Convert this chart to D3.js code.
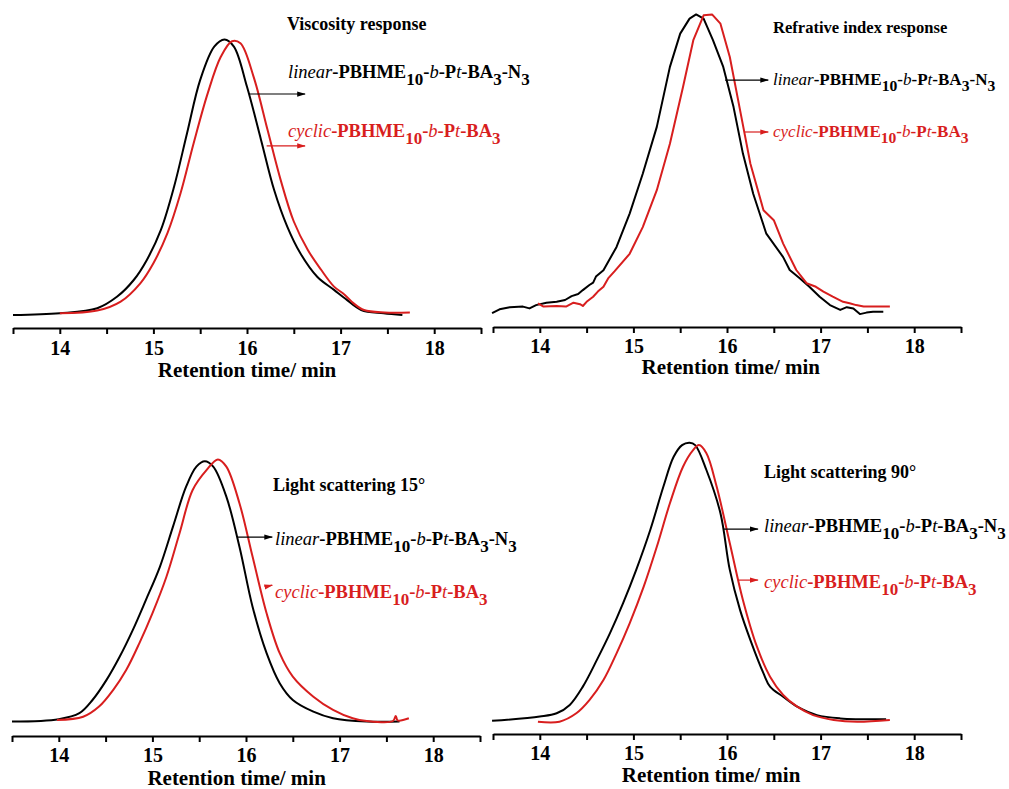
<!DOCTYPE html>
<html>
<head>
<meta charset="utf-8">
<script src="https://cdn.jsdelivr.net/npm/d3@7"></script>
<style>
body { margin: 0; background: #fff; }
text { font-family: "Liberation Serif", "Times New Roman", serif; }
</style>
</head>
<body>
<div id="chart"></div>
<script>
// retention time axis
const majorTicks = [14, 15, 16, 17, 18];
const minorTicks = [13.5, 14.5, 15.5, 16.5, 17.5, 18.5];
const axisTitle = "Retention time/ min";
const panelTitles = ["Viscosity response", "Refrative index response", "Light scattering 15°", "Light scattering 90°"];

// [retention time (min), detector signal]
const viscLinear = [[13.5,4.3],[14.0,4.9],[14.4,6.6],[14.61,10.4],[14.79,16],[14.93,22.7],[15.08,32.7],[15.22,47],[15.36,65],[15.5,82.7],[15.65,93.8],[15.76,96.2],[15.86,93.8],[16.0,80.4],[16.15,62.7],[16.29,46],[16.43,33.8],[16.57,24.9],[16.75,17.1],[16.93,12.7],[17.07,9.3],[17.22,6],[17.46,4.9],[17.66,4.3]];
const viscCyclic = [[14.0,4.9],[14.4,5.8],[14.65,8.8],[14.86,14.9],[15.0,21.6],[15.15,31.6],[15.29,44.9],[15.43,61.6],[15.58,78.2],[15.72,90.4],[15.84,95.6],[15.93,94.9],[16.07,83.8],[16.22,66],[16.36,49.3],[16.5,35.5],[16.65,26],[16.79,19.5],[16.93,13.8],[17.04,11.2],[17.14,8.2],[17.25,6],[17.47,5.2],[17.74,5.2]];

const riLinear = [[13.49,4.6],[13.57,5.9],[13.68,6.6],[13.82,6.8],[13.89,6.2],[13.96,7.3],[14.07,8.1],[14.18,8.4],[14.27,9],[14.34,10.3],[14.41,11],[14.46,12.3],[14.53,14],[14.57,14.8],[14.6,16.8],[14.68,18.9],[14.82,26.7],[14.96,37.8],[15.1,51.1],[15.25,66.7],[15.39,86.7],[15.5,97.8],[15.6,102.8],[15.67,104.2],[15.75,102.8],[15.85,95.6],[15.96,86.7],[16.07,73.3],[16.17,57.8],[16.28,44.4],[16.42,31.1],[16.6,23.3],[16.67,19],[16.78,16.2],[16.88,13.4],[16.99,10.1],[17.1,7.3],[17.21,5.7],[17.28,6.6],[17.35,6.2],[17.42,4.3],[17.49,4.8],[17.56,5.1],[17.67,5.1]];
const riCyclic = [[13.98,7.9],[14.04,6.8],[14.18,7.0],[14.28,6.8],[14.36,8.1],[14.43,7.6],[14.46,7],[14.5,8.4],[14.57,10.1],[14.62,11.8],[14.68,13.4],[14.73,16.2],[14.8,18.6],[14.96,24.4],[15.1,33.3],[15.25,45.6],[15.39,61.1],[15.53,80],[15.64,95.6],[15.75,103.9],[15.84,104.2],[15.93,101.1],[16.03,90],[16.14,72.2],[16.25,54.4],[16.39,38.9],[16.5,35.6],[16.6,27.8],[16.74,19],[16.85,14.6],[16.95,13.4],[17.03,11.8],[17.13,10.1],[17.24,8.4],[17.31,7.9],[17.38,7.3],[17.46,6.8],[17.74,6.8]];

const ls15Linear = [[13.5,4.8],[14.0,5.6],[14.22,7.6],[14.36,12],[14.51,18.7],[14.65,26.4],[14.79,35.3],[14.93,45.3],[15.08,56.4],[15.22,69.8],[15.36,83.1],[15.47,89.8],[15.56,91.6],[15.65,89.8],[15.79,79.8],[15.93,63.1],[16.07,43.1],[16.22,27.6],[16.36,17.6],[16.5,12],[16.72,8.1],[16.93,5.9],[17.29,4.8],[17.64,4.8]];
const ls15Cyclic = [[13.98,5.3],[14.26,6.4],[14.43,9.8],[14.58,15.3],[14.72,22],[14.86,30.9],[15.0,40.9],[15.15,53.1],[15.29,67.6],[15.43,82],[15.58,88.7],[15.7,92.2],[15.79,89.8],[15.93,77.6],[16.07,59.8],[16.22,40.9],[16.36,27.6],[16.5,19.8],[16.72,13.1],[16.93,8.7],[17.14,5.9],[17.29,5],[17.57,5],[17.6,6.7],[17.62,5.2],[17.74,5.9]];

const ls90Linear = [[13.49,4.4],[14.0,5.8],[14.18,6.9],[14.32,9.7],[14.46,15.8],[14.61,24.7],[14.75,33.6],[14.89,43.6],[15.03,54.7],[15.18,68],[15.32,82.4],[15.43,92.4],[15.52,96.3],[15.6,97.1],[15.66,96.3],[15.78,88],[15.93,73.6],[16.03,54.7],[16.14,41.3],[16.25,31.3],[16.39,20.2],[16.46,15.8],[16.6,12.4],[16.75,9.1],[16.96,6.3],[17.21,5.2],[17.7,4.9]];
const ls90Cyclic = [[13.98,4.1],[14.21,4.1],[14.39,6.9],[14.53,11.3],[14.68,18],[14.82,26.9],[14.96,36.9],[15.11,49.1],[15.25,62.4],[15.39,76.9],[15.53,89.1],[15.64,94.7],[15.7,96.3],[15.78,93.6],[15.89,82.4],[16.03,63.6],[16.17,44.7],[16.32,29.1],[16.46,19.1],[16.6,13],[16.75,9.1],[16.92,6.3],[17.14,4.7],[17.39,4.1],[17.74,4.7]];

const red = "#d81e1e";

const panels = [
  { title: panelTitles[0], linear: viscLinear, cyclic: viscCyclic, smooth: true,
    left: 13, axisY: 328, tickDy: 27, titleT: 16, titleDy: 49, fs: 1,
    head: [287, 30], linLab: [288, 78], cycLab: [288, 137],
    linArrow: [[16.02, 78], [16.62, 78]], cycArrow: [[16.21, 60.7], [16.62, 60.7]] },
  { title: panelTitles[1], linear: riLinear, cyclic: riCyclic, smooth: false,
    left: 493, axisY: 327, tickDy: 26, titleT: 16.04, titleDy: 47, fs: 0.92,
    head: [773, 33], linLab: [773, 85], cycLab: [773, 137],
    linArrow: [[15.98, 82.3], [16.44, 82.3]], cycArrow: [[16.19, 65], [16.44, 65]] },
  { title: panelTitles[2], linear: ls15Linear, cyclic: ls15Cyclic, smooth: true,
    left: 12, axisY: 736, tickDy: 26, titleT: 15.9, titleDy: 49, fs: 1,
    head: [273, 491], linLab: [275, 545], cycLab: [275, 598],
    linArrow: [[15.91, 66.3], [16.28, 66.3]], cycArrow: [[16.2, 49.7], [16.28, 50.3]] },
  { title: panelTitles[3], linear: ls90Linear, cyclic: ls90Cyclic, smooth: true,
    left: 493, axisY: 734, tickDy: 26, titleT: 15.83, titleDy: 48, fs: 1,
    head: [764, 478], linLab: [764, 532], cycLab: [764, 588],
    linArrow: [[15.96, 68.3], [16.33, 68.3]], cycArrow: [[16.12, 51.3], [16.33, 51.3]] }
];

const linearParts = [["linear","i"],["-","b"],["PBHME","b"],["10","bs"],["-","b"],["b","i"],["-","b"],["P","b"],["t","i"],["-","b"],["BA","b"],["3","bs"],["-","b"],["N","b"],["3","bs"]];
const cyclicParts = [["cyclic","i"],["-","b"],["PBHME","b"],["10","bs"],["-","b"],["b","i"],["-","b"],["P","b"],["t","i"],["-","b"],["BA","b"],["3","bs"]];

var svg = d3.select("#chart")
    .append("svg")
    .attr("width", 1009)
    .attr("height", 789);

var defs = svg.append("defs");
[["arrowBlack", "#000"], ["arrowRed", red]].forEach(function(m) {
  defs.append("marker")
      .attr("id", m[0])
      .attr("viewBox", "0 -4 10 8")
      .attr("refX", 9)
      .attr("refY", 0)
      .attr("markerUnits", "userSpaceOnUse")
      .attr("markerWidth", 9)
      .attr("markerHeight", 7)
      .attr("orient", "auto")
    .append("path")
      .attr("d", "M0,-3L10,0L0,3Z")
      .attr("fill", m[1]);
});

function addLabel(g, pos, parts, color, fs) {
  var t = g.append("text")
      .attr("x", pos[0])
      .attr("y", pos[1])
      .attr("fill", color)
      .style("font-size", (18.5 * fs) + "px");
  var low = false;
  parts.forEach(function(p) {
    var sub = p[1].indexOf("s") >= 0;
    var dy = 0;
    if (sub && !low) { dy = 7 * fs; low = true; }
    else if (!sub && low) { dy = -7 * fs; low = false; }
    t.append("tspan")
        .attr("dy", dy)
        .style("font-style", p[1].indexOf("i") >= 0 ? "italic" : "normal")
        .style("font-weight", p[1].indexOf("b") >= 0 ? "bold" : "normal")
        .style("font-size", sub ? (17 * fs) + "px" : null)
        .text(p[0]);
  });
}

panels.forEach(function(p) {
  var g = svg.append("g");

  var x = d3.scaleLinear()
      .domain([13.5, 18.5])
      .range([p.left, p.left + 468]);
  var y = d3.scaleLinear()
      .domain([0, 100])
      .range([p.axisY, p.axisY - 300]);

  var axis = g.append("g")
      .attr("transform", "translate(0," + p.axisY + ")")
      .call(d3.axisBottom(x)
          .tickValues(majorTicks.concat(minorTicks))
          .tickSize(6)
          .tickSizeOuter(0)
          .tickFormat(function(d) { return majorTicks.indexOf(d) >= 0 ? d : ""; }));
  axis.select(".domain").attr("stroke-width", 2.2);
  axis.selectAll(".tick line").attr("stroke-width", 2);
  axis.selectAll(".tick text")
      .attr("y", p.tickDy)
      .attr("dy", 0)
      .style("font-size", "20px")
      .style("font-weight", "bold")
      .style("font-family", '"Liberation Serif", "Times New Roman", serif')
      .attr("fill", "#000");

  g.append("text")
      .attr("x", x(p.titleT))
      .attr("y", p.axisY + p.titleDy)
      .attr("text-anchor", "middle")
      .style("font-size", "21px")
      .style("font-weight", "bold")
      .text(axisTitle);

  var line = d3.line()
      .x(function(d) { return x(d[0]); })
      .y(function(d) { return y(d[1]); })
      .curve(p.smooth ? d3.curveCatmullRom.alpha(0.5) : d3.curveLinear);

  g.append("path")
      .datum(p.linear)
      .attr("d", line)
      .attr("fill", "none")
      .attr("stroke", "#000")
      .attr("stroke-width", 2)
      .attr("stroke-linejoin", "round");

  g.append("path")
      .datum(p.cyclic)
      .attr("d", line)
      .attr("fill", "none")
      .attr("stroke", red)
      .attr("stroke-width", 2)
      .attr("stroke-linejoin", "round");

  g.append("text")
      .attr("x", p.head[0])
      .attr("y", p.head[1])
      .style("font-size", (18 * p.fs) + "px")
      .style("font-weight", "bold")
      .text(p.title);

  addLabel(g, p.linLab, linearParts, "#000", p.fs);
  addLabel(g, p.cycLab, cyclicParts, red, p.fs);

  g.append("line")
      .attr("x1", x(p.linArrow[0][0])).attr("y1", y(p.linArrow[0][1]))
      .attr("x2", x(p.linArrow[1][0])).attr("y2", y(p.linArrow[1][1]))
      .attr("stroke", "#000")
      .attr("stroke-width", 1.2)
      .attr("marker-end", "url(#arrowBlack)");

  g.append("line")
      .attr("x1", x(p.cycArrow[0][0])).attr("y1", y(p.cycArrow[0][1]))
      .attr("x2", x(p.cycArrow[1][0])).attr("y2", y(p.cycArrow[1][1]))
      .attr("stroke", red)
      .attr("stroke-width", 1.2)
      .attr("marker-end", "url(#arrowRed)");
});
</script>
</body>
</html>
